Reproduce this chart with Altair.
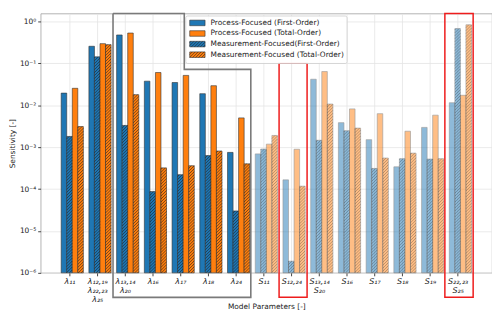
import math
import altair as alt
import pandas as pd

# ---------------- data ----------------
categories = ['λ₁₁', 'λ₁₂,₁₉|λ₂₂,₂₃|λ₂₅', 'λ₁₃,₁₄|λ₂₀', 'λ₁₆', 'λ₁₇', 'λ₁₈', 'λ₂₄',
              'S₁₁', 'S₁₂,₂₄', 'S₁₃,₁₄|S₂₀', 'S₁₆', 'S₁₇', 'S₁₈', 'S₁₉', 'S₂₂,₂₃|S₂₅']
process_first = [0.0195, 0.256, 0.477, 0.0376, 0.0349, 0.0189, 7.5e-4,
                 6.9e-4, 1.66e-4, 0.0418, 3.85e-3, 1.51e-3, 3.4e-4, 2.96e-3, 0.0115]
measurement_first = [1.8e-3, 0.143, 3.3e-3, 8.7e-5, 2.2e-4, 6.3e-4, 3.0e-5,
                     9.0e-4, 1.9e-6, 1.46e-3, 2.47e-3, 3.1e-4, 5.3e-4, 5.2e-4, 0.676]
process_total = [0.0254, 0.296, 0.53, 0.0605, 0.0516, 0.0293, 5.0e-3,
                 1.18e-3, 8.9e-4, 0.0638, 8.2e-3, 6.3e-3, 2.4e-3, 5.8e-3, 0.0173]
measurement_total = [3.1e-3, 0.28, 0.0179, 3.2e-4, 3.6e-4, 8.1e-4, 4.0e-4,
                     1.9e-3, 1.17e-4, 0.0107, 2.85e-3, 5.5e-4, 7.2e-4, 5.3e-4, 0.835]

legend_labels = ["Process-Focused (First-Order)", "Process-Focused (Total-Order)",
                 "Measurement-Focused(First-Order)", "Measurement-Focused (Total-Order)"]
y_tick_values = [1e-6, 1e-5, 1e-4, 1e-3, 1e-2, 1e-1, 1]
y_tick_sup = ['⁰', '⁻¹', '⁻²', '⁻³', '⁻⁴', '⁻⁵', '⁻⁶']

# annotation boxes (data coordinates)
gray_box_x = [1.57, 4.14, 4.14, 6.54, 6.54, 1.57, 1.57]
gray_box_y = [1.55, 1.55, 0.072, 0.072, 2.6e-7, 2.6e-7, 1.55]
red_box_x = [7.56, 13.54]
red_box_x2 = [8.57, 14.56]
red_box_y = [0.1, 1.55]
red_box_y2 = [2.6e-7, 2.6e-7]

BLUE, ORANGE = "#1f77b4", "#ff7f0e"

# ---------------- geometry ----------------
W, H = 456, 262
X_DOMAIN = [-1.04, 15.24]
Y_DOMAIN = [1e-6, 1.55]
LTOP, LBOT = math.log10(Y_DOMAIN[1]), math.log10(Y_DOMAIN[0])
PXU = W / (X_DOMAIN[1] - X_DOMAIN[0])
PXD = H / (LTOP - LBOT)


def x_px(x):
    return (x - X_DOMAIN[0]) * PXU


def px_x(p):
    return X_DOMAIN[0] + p / PXU


def y_px(v):
    return (LTOP - math.log10(v)) * PXD


def px_y(p):
    return 10 ** (LTOP - p / PXD)


def hatch(x0, x1, yt, yb, step=3.0):
    segs = []
    k0 = math.floor((x0 + yt) / step)
    k1 = math.ceil((x1 + yb) / step)
    for k in range(k0, k1 + 1):
        c = k * step
        pa = max(x0, c - yb)
        pb = min(x1, c - yt)
        if pb - pa > 0.3:
            segs.append((pa, c - pa, pb, c - pb))
    return segs


series = [
    (process_first, -0.2, BLUE, False),
    (measurement_first, 0.0, BLUE, True),
    (process_total, 0.2, ORANGE, False),
    (measurement_total, 0.4, ORANGE, True),
]

bar_rows, hatch_rows = [], []
for i, cat in enumerate(categories):
    alpha = 1.0 if i < 7 else 0.5
    for vals, off, col, hatched in series:
        v = vals[i]
        xa, xb = i + off - 0.1, i + off + 0.1
        bar_rows.append(dict(x=xa, x2=xb, y=v, y2=Y_DOMAIN[0], fill=col, alpha=alpha))
        if hatched:
            for s in hatch(x_px(xa), x_px(xb), y_px(v), H):
                hatch_rows.append(dict(x=px_x(s[0]), y=px_y(s[1]), x2=px_x(s[2]),
                                       y2=px_y(s[3]), alpha=alpha * 0.8))

# legend (built in pixel space, converted to data space)
leg_left = x_px(gray_box_x[1]) + 1.5
leg_rows_py = [9.5, 20.2, 30.9, 41.6]
leg_cols = [BLUE, ORANGE, BLUE, ORANGE]
leg_hatched = [False, False, True, True]
legend_frame = pd.DataFrame([dict(x=px_x(leg_left), x2=px_x(leg_left + 163),
                                  y=px_y(2.5), y2=px_y(50.5))])
sw_rows, txt_rows, leg_hatch_rows = [], [], []
for lab, py, col, h in zip(legend_labels, leg_rows_py, leg_cols, leg_hatched):
    sx0, sx1, sy0, sy1 = leg_left + 4, leg_left + 19.5, py - 2.8, py + 2.8
    sw_rows.append(dict(x=px_x(sx0), x2=px_x(sx1), y=px_y(sy0), y2=px_y(sy1),
                        fill=col, alpha=1.0))
    txt_rows.append(dict(x=px_x(leg_left + 25), y=px_y(py), text=lab))
    if h:
        for s in hatch(sx0, sx1, sy0, sy1):
            leg_hatch_rows.append(dict(x=px_x(s[0]), y=px_y(s[1]), x2=px_x(s[2]),
                                       y2=px_y(s[3]), alpha=0.8))

bars = pd.DataFrame(bar_rows)
hatches = pd.DataFrame(hatch_rows)
leg_hatches = pd.DataFrame(leg_hatch_rows)
swatches = pd.DataFrame(sw_rows)
texts = pd.DataFrame(txt_rows)
gray_df = pd.DataFrame(dict(x=gray_box_x, y=gray_box_y, o=list(range(len(gray_box_x)))))
red_df = pd.DataFrame(dict(x=red_box_x, x2=red_box_x2, y=red_box_y, y2=red_box_y2))

# ---------------- encodings ----------------
x_label_expr = "split(" + repr(categories) + "[round(datum.value)], '|')"
y_label_expr = "'10' + " + repr(y_tick_sup) + "[round(-log(datum.value)/LN10)]"

xscale = alt.Scale(domain=X_DOMAIN, nice=False, zero=False)
yscale = alt.Scale(type="log", domain=Y_DOMAIN, nice=False)

x_axis = alt.Axis(values=list(range(len(categories))), labelExpr=x_label_expr,
                  title="Model Parameters [-]", labelFontStyle="italic",
                  labelFontSize=8, labelLineHeight=9.2, labelPadding=2,
                  titleBaseline="top", titleY=30, labelAngle=0)
y_axis = alt.Axis(values=y_tick_values, labelExpr=y_label_expr,
                  title="Sensitivity [-]", titlePadding=3, labelPadding=2)

X = alt.X("x:Q", scale=xscale, axis=x_axis)
Y = alt.Y("y:Q", scale=yscale, axis=y_axis)

bar_layer = alt.Chart(bars).mark_rect(stroke="#333333", strokeWidth=0.6).encode(
    x=X, x2="x2:Q", y=Y, y2="y2:Q",
    fill=alt.Fill("fill:N", scale=None),
    opacity=alt.Opacity("alpha:Q", scale=None),
)

hatch_layer = alt.Chart(hatches).mark_rule(stroke="#1a1a1a", strokeWidth=0.7).encode(
    x=X, x2="x2:Q", y=Y, y2="y2:Q",
    opacity=alt.Opacity("alpha:Q", scale=None),
)

gray_layer = alt.Chart(gray_df).mark_line(color="#7a7a7a", strokeWidth=1.6).encode(
    x=X, y=Y, order="o:Q",
)

red_layer = alt.Chart(red_df).mark_rect(fillOpacity=0, stroke="#ee1c1c", strokeWidth=1.5).encode(
    x=X, x2="x2:Q", y=Y, y2="y2:Q",
)

frame_layer = alt.Chart(legend_frame).mark_rect(
    fill="white", fillOpacity=0.85, stroke="#cccccc", strokeWidth=0.8, cornerRadius=2
).encode(x=X, x2="x2:Q", y=Y, y2="y2:Q")

swatch_layer = alt.Chart(swatches).mark_rect(stroke="#333333", strokeWidth=0.6).encode(
    x=X, x2="x2:Q", y=Y, y2="y2:Q",
    fill=alt.Fill("fill:N", scale=None),
)

leg_hatch_layer = alt.Chart(leg_hatches).mark_rule(stroke="#1a1a1a", strokeWidth=0.7).encode(
    x=X, x2="x2:Q", y=Y, y2="y2:Q",
    opacity=alt.Opacity("alpha:Q", scale=None),
)

text_layer = alt.Chart(texts).mark_text(
    align="left", baseline="middle", font="DejaVu Sans", fontSize=7.5, color="#222222"
).encode(x=X, y=Y, text="text:N")

chart = alt.layer(
    bar_layer, hatch_layer, gray_layer, red_layer, frame_layer, swatch_layer,
    leg_hatch_layer, text_layer
).properties(
    width=W, height=H, padding={"left": 0, "top": 0, "right": 0, "bottom": 0}
).configure_axis(
    labelFont="DejaVu Sans", titleFont="DejaVu Sans", labelFontSize=7.5,
    titleFontSize=7.5, titleFontWeight="normal", labelColor="#222222",
    titleColor="#222222", gridColor="#e4e4e4", gridWidth=0.8, tickColor="#444444",
    tickSize=3, domain=False
).configure_view(stroke="#a0a0a0", strokeWidth=0.8)

chart.save("out.html", embed_options={"renderer": "svg", "actions": False})
